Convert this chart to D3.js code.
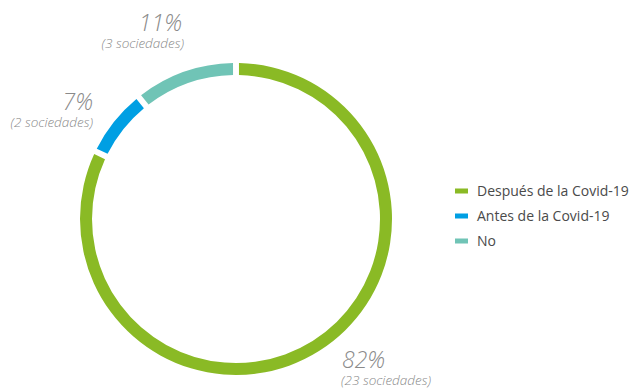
<!DOCTYPE html>
<html>
<head>
<meta charset="utf-8">
<script src="https://cdn.jsdelivr.net/npm/d3@7"></script>
<style>
  body { margin: 0; background: #fff; }
  svg { font-family: "Open Sans", sans-serif; }
</style>
</head>
<body>
<svg id="chart" width="632" height="388"></svg>
<script>
const categories = ["Después de la Covid-19", "Antes de la Covid-19", "No"];
const counts = [23, 2, 3];
const percents = ["82%", "7%", "11%"];
const colors = ["#8aba25", "#009fe3", "#70c4b6"];

const svg = d3.select("#chart");
const cx = 236, cy = 219, outerR = 156, innerR = 144;

const pie = d3.pie().sort(null).value(d => d)
    .startAngle(0).endAngle(2 * Math.PI);
const arcs = pie(counts);
const arc = d3.arc().innerRadius(innerR).outerRadius(outerR).padAngle(0.028);

const g = svg.append("g").attr("transform", `translate(${cx},${cy})`);
g.selectAll("path")
    .data(arcs)
    .join("path")
    .attr("d", arc)
    .attr("fill", (d, i) => colors[i]);

// labels, placed by hand like the original
const labelPos = [
    { x: 341, y: 368, anchor: "start" },
    { x: 93, y: 110, anchor: "end" },
    { x: 184, y: 31, anchor: "end" }
];
const lab = svg.append("g").attr("fill", "#8a8a8a").attr("font-style", "italic");
labelPos.forEach((p, i) => {
    const t = lab.append("text").attr("text-anchor", p.anchor);
    t.append("tspan").attr("x", i === 0 ? p.x + 1 : (i === 2 ? p.x - 2 : p.x)).attr("y", p.y)
        .attr("font-size", 23).attr("font-weight", 300).text(percents[i]);
    t.append("tspan").attr("x", p.x).attr("y", p.y + 17)
        .attr("font-size", 13.5).attr("font-weight", 300).text(`(${counts[i]} sociedades)`);
});

// legend
const y = d3.scalePoint().domain(categories).range([191, 241]);
const leg = svg.append("g");
leg.selectAll("rect")
    .data(categories)
    .join("rect")
    .attr("x", 455).attr("y", d => y(d) - 2.5)
    .attr("width", 13).attr("height", 5)
    .attr("fill", (d, i) => colors[i]);
leg.selectAll("text")
    .data(categories)
    .join("text")
    .attr("x", 477).attr("y", d => y(d) + 5)
    .attr("font-size", 14).attr("fill", "#4a4a4a")
    .text(d => d);
</script>
</body>
</html>
